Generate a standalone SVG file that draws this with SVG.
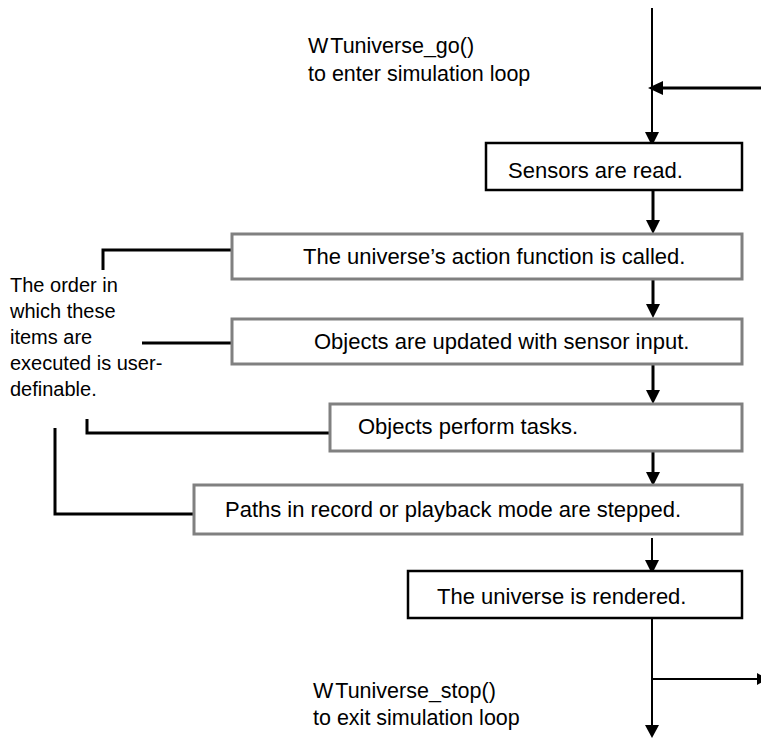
<svg xmlns="http://www.w3.org/2000/svg" width="761" height="738" viewBox="0 0 761 738">
<style>
text{font-family:"Liberation Sans",Arial,sans-serif;fill:#000}
.t{font-size:20px}
.h{font-size:21.5px}
.b{font-size:22px}
.bk{fill:#fff;stroke:#000;stroke-width:2.5}
.gr{fill:#fff;stroke:#808080;stroke-width:3}
.ln{fill:none;stroke:#000;stroke-width:3}
.thin{fill:none;stroke:#000;stroke-width:2}
.ah{fill:#000}
</style>
<rect width="761" height="738" fill="#fff"/>
<g id="labels">
<text class="h" x="308" y="53">W<tspan dx="2">Tuniverse_go()</tspan></text>
<text class="h" x="308" y="81">to enter simulation loop</text>
<text class="h" x="313" y="698">W<tspan dx="2">Tuniverse_stop()</tspan></text>
<text class="h" x="313" y="725">to exit simulation loop</text>
</g>
<g id="note">
<text class="t" x="10" y="292">The order in</text>
<text class="t" x="10" y="318">which these</text>
<text class="t" x="10" y="344">items are</text>
<text class="t" x="10" y="370">executed is user-</text>
<text class="t" x="10" y="396">definable.</text>
</g>
<g id="connectors">
<path class="thin" d="M652 8V143"/>
<path class="ln" d="M761 88H660"/>
<polygon class="ah" points="648,88 663,81 663,95"/>
<polygon class="ah" points="652,146 645,132 659,132"/>
<path class="ln" d="M653 190V222"/>
<polygon class="ah" points="653,234 646,220 660,220"/>
<path class="ln" d="M653 279V306"/>
<polygon class="ah" points="653,318 646,304 660,304"/>
<path class="ln" d="M653 364V392"/>
<polygon class="ah" points="653,404 646,390 660,390"/>
<path class="ln" d="M653 450V474"/>
<polygon class="ah" points="653,486 646,472 660,472"/>
<path class="thin" d="M652 538V562"/>
<polygon class="ah" points="652,574 645,560 659,560"/>
<path class="thin" d="M652 616V728"/>
<polygon class="ah" points="652,738 645,725 659,725"/>
<path class="thin" d="M652 679H758"/>
<polygon class="ah" points="768,679 757,673 757,685"/>
<path class="ln" d="M103 270V250H232"/>
<path class="ln" d="M142 343H232"/>
<path class="ln" d="M87 419V433H330"/>
<path class="ln" d="M55 428V514H194"/>
</g>
<g id="n1"><rect class="bk" x="486" y="143" width="256" height="47"/><text class="b" x="508" y="178">Sensors are read.</text></g>
<g id="n2"><rect class="gr" x="232" y="234" width="510" height="45"/><text class="b" x="303" y="264">The universe’s action function is called.</text></g>
<g id="n3"><rect class="gr" x="232" y="319" width="510" height="45"/><text class="b" x="314" y="349">Objects are updated with sensor input.</text></g>
<g id="n4"><rect class="gr" x="330" y="404" width="412" height="47"/><text class="b" x="358" y="434">Objects perform tasks.</text></g>
<g id="n5"><rect class="gr" x="194" y="485" width="548" height="49"/><text class="b" x="225" y="517">Paths in record or playback mode are stepped.</text></g>
<g id="n6"><rect class="bk" x="408" y="571" width="334" height="47"/><text class="b" x="437" y="604">The universe is rendered.</text></g>
</svg>
